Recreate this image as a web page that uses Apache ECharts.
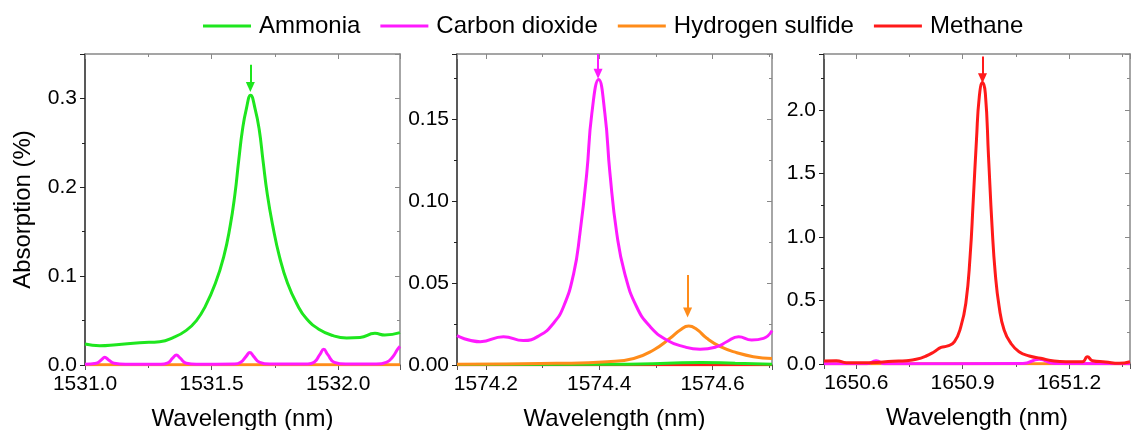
<!DOCTYPE html>
<html>
<head>
<meta charset="utf-8">
<title>Absorption spectra</title>
<script src="https://cdn.jsdelivr.net/npm/echarts@6/dist/echarts.min.js"></script>
<style>
  html, body { margin: 0; padding: 0; background: #fff; }
  #chart { width: 1131px; height: 430px; }
</style>
</head>
<body>
<div id="chart"></div>
<script>
// legend entries and their colours
var gases = ["Ammonia", "Carbon dioxide", "Hydrogen sulfide", "Methane"];
var gasColors = ["#1ee61e", "#ff1aff", "#ff8c1a", "#ff1a1a"];

// panel 1 (around 1531.6 nm)  [wavelength nm, absorption %]
var nh3Band1531 = [
  [1531.000, 0.0236], [1531.058, 0.0217], [1531.124, 0.0229], [1531.216, 0.0251],
  [1531.295, 0.0262], [1531.350, 0.0310], [1531.400, 0.0390], [1531.440, 0.0500],
  [1531.475, 0.0660], [1531.515, 0.0920], [1531.548, 0.1220], [1531.573, 0.1560],
  [1531.592, 0.1920], [1531.607, 0.2300], [1531.622, 0.2650], [1531.637, 0.2880],
  [1531.654, 0.3037], [1531.672, 0.2880], [1531.688, 0.2650], [1531.703, 0.2300],
  [1531.720, 0.1920], [1531.742, 0.1560], [1531.768, 0.1220], [1531.800, 0.0920],
  [1531.838, 0.0680], [1531.875, 0.0520], [1531.925, 0.0400], [1531.980, 0.0330],
  [1532.033, 0.0305], [1532.086, 0.0310], [1532.145, 0.0356], [1532.184, 0.0337],
  [1532.244, 0.0364]
];
var co2Band1531 = [
  [1531.000, 0.0008], [1531.045, 0.0020], [1531.065, 0.0060], [1531.078, 0.0086],
  [1531.092, 0.0060], [1531.115, 0.0020], [1531.160, 0.0008], [1531.300, 0.0008],
  [1531.325, 0.0020], [1531.347, 0.0080], [1531.361, 0.0112], [1531.375, 0.0080],
  [1531.400, 0.0020], [1531.440, 0.0008], [1531.590, 0.0010], [1531.615, 0.0030],
  [1531.637, 0.0100], [1531.651, 0.0142], [1531.665, 0.0100], [1531.690, 0.0030],
  [1531.730, 0.0010], [1531.880, 0.0010], [1531.905, 0.0030], [1531.928, 0.0120],
  [1531.943, 0.0176], [1531.958, 0.0120], [1531.985, 0.0030], [1532.030, 0.0010],
  [1532.150, 0.0010], [1532.190, 0.0030], [1532.215, 0.0090], [1532.235, 0.0180],
  [1532.244, 0.0210]
];
var h2sBand1531 = [[1531.000, 0.0002], [1532.244, 0.0002]];

// panel 2 (around 1574.4 nm)
var co2Band1574 = [
  [1574.149, 0.0179], [1574.190, 0.0142], [1574.231, 0.0173], [1574.266, 0.0149],
  [1574.296, 0.0183], [1574.319, 0.0254], [1574.337, 0.0356], [1574.355, 0.0560],
  [1574.366, 0.0804], [1574.378, 0.1170], [1574.387, 0.1537], [1574.399, 0.1744],
  [1574.410, 0.1537], [1574.419, 0.1170], [1574.431, 0.0804], [1574.445, 0.0560],
  [1574.466, 0.0356], [1574.490, 0.0234], [1574.519, 0.0153], [1574.549, 0.0112],
  [1574.578, 0.0096], [1574.608, 0.0112], [1574.625, 0.0142], [1574.646, 0.0173],
  [1574.669, 0.0153], [1574.690, 0.0163], [1574.705, 0.0210]
];
var h2sBand1574 = [
  [1574.149, 0.0004], [1574.325, 0.0010], [1574.414, 0.0020], [1574.461, 0.0040],
  [1574.496, 0.0092], [1574.525, 0.0163], [1574.543, 0.0214], [1574.558, 0.0238],
  [1574.572, 0.0218], [1574.590, 0.0163], [1574.614, 0.0112], [1574.643, 0.0075],
  [1574.672, 0.0051], [1574.705, 0.0040]
];
var nh3Band1574 = [
  [1574.149, 0.0003], [1574.450, 0.0005], [1574.520, 0.0010], [1574.580, 0.0016],
  [1574.640, 0.0010], [1574.705, 0.0005]
];
var ch4Band1574 = [[1574.149, 0.0002], [1574.705, 0.0002]];

// panel 3 (around 1650.9 nm)
var ch4Band1650 = [
  [1650.509, 0.024], [1650.544, 0.026], [1650.572, 0.010], [1650.638, 0.010],
  [1650.703, 0.021], [1650.741, 0.026], [1650.769, 0.037], [1650.797, 0.063],
  [1650.820, 0.097], [1650.839, 0.131], [1650.858, 0.142], [1650.877, 0.176],
  [1650.895, 0.294], [1650.909, 0.478], [1650.921, 0.845], [1650.930, 1.291],
  [1650.939, 1.764], [1650.947, 2.105], [1650.956, 2.215], [1650.964, 2.131],
  [1650.973, 1.633], [1650.983, 1.081], [1650.992, 0.714], [1651.003, 0.451],
  [1651.017, 0.268], [1651.036, 0.163], [1651.059, 0.097], [1651.088, 0.063],
  [1651.120, 0.045], [1651.153, 0.026], [1651.191, 0.018], [1651.238, 0.018],
  [1651.252, 0.058], [1651.266, 0.026], [1651.303, 0.016], [1651.341, 0.005],
  [1651.372, 0.018]
];
var co2Band1650 = [
  [1650.509, 0.002], [1650.630, 0.002], [1650.656, 0.026], [1650.680, 0.002],
  [1651.070, 0.003], [1651.116, 0.037], [1651.160, 0.003], [1651.372, 0.002]
];
var h2sBand1650 = [[1650.509, 0.001], [1651.372, 0.001]];

// arrows marking the peaks used: [wavelength, arrow start, arrow tip]
var nh3Arrow = [1531.653, 0.338, 0.313];
var co2Arrow = [1574.398, 0.190, 0.178];
var h2sArrow = [1574.556, 0.055, 0.032];
var ch4Arrow = [1650.956, 2.42, 2.25];

// axis ranges
var xMin = [1531.0, 1574.149, 1650.509];
var xMax = [1532.244, 1574.705, 1651.372];
var yMax = [0.35, 0.19, 2.44];
var yStep = [0.1, 0.05, 0.5];
var yDecimals = [1, 2, 1];

var chart = echarts.init(document.getElementById("chart"));
var font = "Liberation Sans, Arial, sans-serif";
var gridBoxes = [
  { left: 85, top: 54, width: 315, height: 311, outerBoundsMode: "none" },
  { left: 457, top: 54, width: 315, height: 311, outerBoundsMode: "none" },
  { left: 824, top: 54, width: 306, height: 310, outerBoundsMode: "none" }
];

var xAxes = [], yAxes = [];
for (var i = 0; i < 3; i++) {
  xAxes.push({
    type: "value", gridIndex: i, position: "bottom",
    min: xMin[i], max: xMax[i], splitNumber: 3,
    name: "Wavelength (nm)", nameLocation: "middle", nameGap: 42,
    nameTextStyle: { fontSize: 24, color: "#000", fontFamily: font },
    axisLine: { onZero: false, lineStyle: { color: "#555", width: 1.5 } },
    axisTick: { length: 5, lineStyle: { color: "#555" } },
    minorTick: { show: true, splitNumber: 2, length: 3, lineStyle: { color: "#555" } },
    splitLine: { show: false },
    axisLabel: {
      fontSize: 21, color: "#000", fontFamily: font, margin: 9,
      showMinLabel: i === 0, showMaxLabel: false,
      formatter: function (v) { return v.toFixed(1); }
    }
  });
  yAxes.push({
    type: "value", gridIndex: i, position: "left",
    min: 0, max: yMax[i], interval: yStep[i],
    name: i === 0 ? "Absorption (%)" : "", nameLocation: "middle", nameGap: 50,
    nameTextStyle: { fontSize: 24, color: "#000", fontFamily: font },
    axisLine: { show: true, onZero: false, lineStyle: { color: "#222", width: 1.5 } },
    axisTick: { show: true, length: 5, lineStyle: { color: "#222" } },
    minorTick: { show: true, splitNumber: 2, length: 3, lineStyle: { color: "#222" } },
    splitLine: { show: false },
    axisLabel: {
      fontSize: 21, color: "#000", fontFamily: font, margin: 8,
      showMaxLabel: false,
      formatter: (function (d) { return function (v) { return v.toFixed(d); }; })(yDecimals[i])
    }
  });
}
// mirrored frame axes (top / right) with inward ticks
for (var j = 0; j < 3; j++) {
  xAxes.push({
    type: "value", gridIndex: j, position: "top",
    min: xMin[j], max: xMax[j], splitNumber: 3,
    axisLine: { onZero: false, lineStyle: { color: "#888", width: 1.5 } },
    axisTick: { inside: true, length: 5, lineStyle: { color: "#888" } },
    minorTick: { show: true, splitNumber: 2, length: 3, lineStyle: { color: "#888" } },
    splitLine: { show: false },
    axisLabel: { show: false }
  });
  yAxes.push({
    type: "value", gridIndex: j, position: "right",
    min: 0, max: yMax[j], interval: yStep[j],
    axisLine: { show: true, onZero: false, lineStyle: { color: "#888", width: 1.5 } },
    axisTick: { show: true, inside: true, length: 5, lineStyle: { color: "#888" } },
    minorTick: { show: true, splitNumber: 2, length: 3, lineStyle: { color: "#888" } },
    splitLine: { show: false },
    axisLabel: { show: false }
  });
}

function arrowMark(arrow, color) {
  return {
    silent: true, animation: false,
    symbol: ["none", "triangle"], symbolSize: [9, 10],
    label: { show: false },
    emphasis: { disabled: true },
    lineStyle: { color: color, width: 2, type: "solid" },
    data: [[{ coord: [arrow[0], arrow[1]] }, { coord: [arrow[0], arrow[2]] }]]
  };
}

function curve(gasIndex, panel, data, arrow) {
  var s = {
    name: gases[gasIndex], type: "line",
    xAxisIndex: panel, yAxisIndex: panel,
    data: data, symbol: "none", smooth: 0.5,
    color: gasColors[gasIndex],
    lineStyle: { width: 3, color: gasColors[gasIndex] },
    emphasis: { disabled: true }
  };
  if (arrow) s.markLine = arrowMark(arrow, gasColors[gasIndex]);
  return s;
}

var series = [
  curve(2, 0, h2sBand1531),
  curve(1, 0, co2Band1531),
  curve(0, 0, nh3Band1531, nh3Arrow),
  curve(3, 1, ch4Band1574),
  curve(0, 1, nh3Band1574),
  curve(2, 1, h2sBand1574, h2sArrow),
  curve(1, 1, co2Band1574, co2Arrow),
  curve(2, 2, h2sBand1650),
  curve(1, 2, co2Band1650),
  curve(3, 2, ch4Band1650, ch4Arrow)
];

chart.setOption({
  animation: false,
  color: gasColors,
  legend: {
    data: gases, left: 198, top: 9, icon: "rect",
    itemWidth: 48, itemHeight: 3, itemGap: 20,
    textStyle: { fontSize: 24, color: "#000", fontFamily: font, padding: [0, 0, 0, 3] }
  },
  grid: gridBoxes,
  xAxis: xAxes,
  yAxis: yAxes,
  series: series
});
</script>
</body>
</html>
